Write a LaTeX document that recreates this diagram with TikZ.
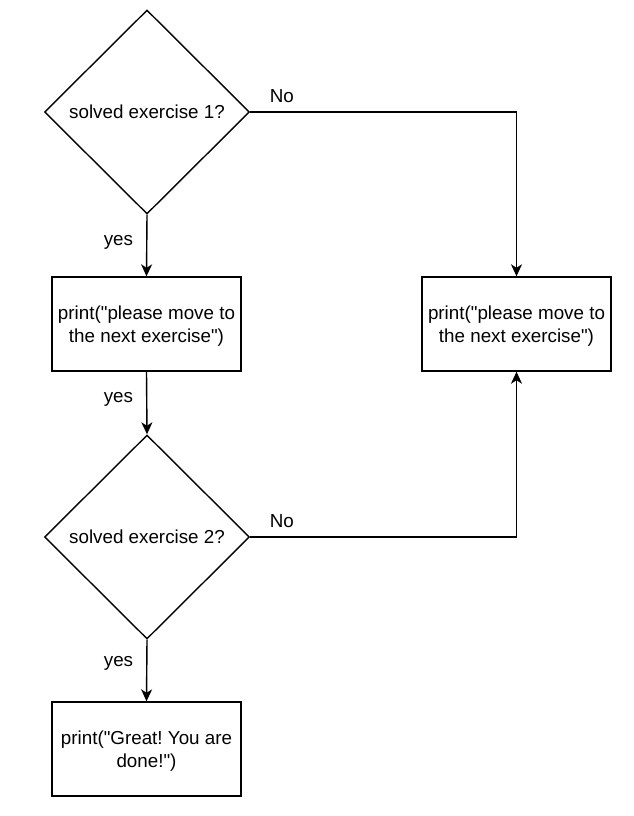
\documentclass[tikz,border=0pt]{standalone}
\usepackage{fontspec}
\setmainfont{Liberation Sans}
\usetikzlibrary{shapes.geometric,arrows.meta}

\tikzset{
  decision/.style={diamond, draw, line width=1.4pt, minimum width=205pt, minimum height=204pt, inner sep=0pt},
  printbox/.style={rectangle, draw, line width=1.4pt, minimum width=189pt, minimum height=94pt, align=center, inner sep=2pt, text depth=-3pt},
  flow/.style={line width=1.4pt, -{Stealth[length=12pt,width=11pt,inset=3.5pt]}},
  lbl/.style={inner sep=0pt}
}
\frenchspacing

\begin{document}
\begin{tikzpicture}[x=1pt,y=-1pt,font=\fontsize{18.8}{22.5}\selectfont]
            \useasboundingbox (0,0) rectangle (634,816);

            \node[decision] (d1) at (147,112) {solved exercise 1?};
            \node[printbox] (b1) at (146.5,324) {print(\textquotedbl please move to\\the next exercise\textquotedbl)};
            \node[printbox] (b2) at (516.5,324) {print(\textquotedbl please move to\\the next exercise\textquotedbl)};
            \node[decision] (d2) at (147,537) {solved exercise 2?};
            \node[printbox] (b3) at (146.5,749) {print(\textquotedbl Great! You are\\done!\textquotedbl)};

            \draw[flow] (d1.south) -- node[lbl, pos=0.45, left=13pt] (y1) {yes} (b1.north);
            \draw[flow] (b1.south) -- node[lbl, pos=0.45, left=13pt] (y2) {yes} (d2.north);
            \draw[flow] (d2.south) -- node[lbl, pos=0.38, left=13pt] (y3) {yes} (b3.north);

            \draw[flow] (d1.east) node[lbl, anchor=south west, xshift=19pt, yshift=9pt] (n1) {No} -| (b2.north);
            \draw[flow] (d2.east) node[lbl, anchor=south west, xshift=19pt, yshift=9pt] (n2) {No} -| (b2.south);
        \end{tikzpicture}
\end{document}
